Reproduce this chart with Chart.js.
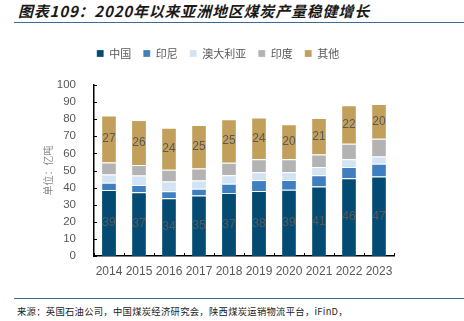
<!DOCTYPE html>
<html>
<head>
<meta charset="utf-8">
<script src="https://cdn.jsdelivr.net/npm/chart.js@4/dist/chart.umd.min.js"></script>
<style>
  html, body { margin: 0; padding: 0; background: #fff; }
  body { width: 464px; height: 321px; position: relative; overflow: hidden; font-family: "Noto Sans CJK SC", sans-serif; }
  #title { position: absolute; left: 18px; top: 0px; font-size: 15px; font-weight: bold; font-style: italic; color: #1a1a1a; white-space: nowrap; letter-spacing: 0.8px; }
  .rule { position: absolute; left: 14px; right: 0; height: 1.5px; background: #3b6a94; }
  #source { position: absolute; left: 17px; top: 304px; font-size: 9.3px; color: #222; white-space: nowrap; letter-spacing: 0.3px; }
  #wrap { position: absolute; left: 0; top: 36px; width: 440px; height: 250px; }
</style>
</head>
<body>
<div id="title">图表109：2020年以来亚洲地区煤炭产量稳健增长</div>
<div class="rule" style="top:21.5px"></div>
<div id="wrap"><canvas id="chart"></canvas></div>
<div class="rule" style="top:297.5px"></div>
<div id="source">来源：英国石油公司，中国煤炭经济研究会，陕西煤炭运销物流平台，iFinD，</div>
<script>
/* ---- Данные (亿吨), читаем с картинки ---- */
const YEARS = ["2014", "2015", "2016", "2017", "2018", "2019", "2020", "2021", "2022", "2023"];
const CHINA     = [38.6, 37.3, 33.8, 35.4, 36.9, 38.0, 38.8, 40.7, 45.5, 46.5];
const INDONESIA = [4.2, 4.2, 4.0, 3.9, 5.3, 6.4, 5.6, 6.5, 6.5, 7.5];
const AUSTRALIA = [4.8, 5.6, 5.8, 4.8, 5.0, 4.6, 4.6, 4.8, 4.6, 4.2];
const INDIA     = [7.1, 6.1, 6.9, 7.1, 7.3, 7.6, 7.6, 7.3, 9.1, 10.3];
const OTHER     = [27.45, 26.3, 24.45, 25.45, 25.45, 24.45, 20.45, 21.45, 22.45, 20.45];
const Y_TICKS   = [0, 10, 20, 30, 40, 50, 60, 70, 80, 90, 100];

const TXT = "#595959";
const NUM_FONT = "'Liberation Sans', Arial, sans-serif";

const SERIES = [
  { label: "中国",     data: CHINA,     color: "#034b72", showLabels: true },
  { label: "印尼",     data: INDONESIA, color: "#3f7fbf", showLabels: false },
  { label: "澳大利亚", data: AUSTRALIA, color: "#d2e3f3", showLabels: false },
  { label: "印度",     data: INDIA,     color: "#b3b3b3", showLabels: false },
  { label: "其他",     data: OTHER,     color: "#c29f5b", showLabels: true }
];

/* ---- Отступ под легендой ---- */
const legendGap = {
  id: "legendGap",
  beforeInit(chart) {
    const fit = chart.legend.fit;
    chart.legend.fit = function () { fit.call(this); this.height += 16; };
  }
};

/* ---- Подписи значений внутри сегментов ---- */
const segLabels = {
  id: "segLabels",
  afterDatasetsDraw(chart) {
    const ctx = chart.ctx;
    ctx.save();
    ctx.font = "12px " + NUM_FONT;
    ctx.fillStyle = TXT;
    ctx.textAlign = "center";
    ctx.textBaseline = "middle";
    chart.data.datasets.forEach((ds, i) => {
      if (!SERIES[i].showLabels) return;
      chart.getDatasetMeta(i).data.forEach((bar, j) => {
        ctx.fillText(String(Math.round(ds.data[j])), bar.x, (bar.y + bar.base) / 2);
      });
    });
    ctx.restore();
  }
};

/* ---- Короткие засечки внутрь области графика ---- */
const innerTicks = {
  id: "innerTicks",
  afterDraw(chart) {
    const ctx = chart.ctx, xs = chart.scales.x, ys = chart.scales.y;
    const left = chart.chartArea.left, bottom = chart.chartArea.bottom;
    ctx.save();
    ctx.strokeStyle = "#000";
    ctx.lineWidth = 1;
    ctx.beginPath();
    Y_TICKS.forEach(v => {
      const y = Math.round(ys.getPixelForValue(v)) + 0.5;
      ctx.moveTo(left, y); ctx.lineTo(left + 3, y);
    });
    const step = xs.getPixelForValue(1) - xs.getPixelForValue(0);
    for (let i = 0; i <= YEARS.length; i++) {
      const x = Math.round(xs.getPixelForValue(0) - step / 2 + i * step) + 0.5;
      ctx.moveTo(x, bottom); ctx.lineTo(x, bottom - 3);
    }
    ctx.stroke();
    ctx.restore();
  }
};

new Chart(document.getElementById("chart"), {
  type: "bar",
  data: {
    labels: YEARS,
    datasets: SERIES.map(s => ({
      label: s.label,
      data: s.data,
      backgroundColor: s.color,
      borderColor: "#ffffff",
      borderWidth: { top: 1 },
      borderSkipped: "start",
      barPercentage: 0.46,
      categoryPercentage: 1
    }))
  },
  options: {
    responsive: true, maintainAspectRatio: false, animation: false,
    layout: { padding: { top: 0, right: 46, left: 42, bottom: 0 } },
    plugins: {
      tooltip: { enabled: false },
      legend: {
        position: "top",
        labels: {
          color: TXT, boxWidth: 7, boxHeight: 7, padding: 12,
          font: { size: 11, family: "'Noto Sans CJK SC', sans-serif" }
        }
      }
    },
    scales: {
      x: {
        stacked: true,
        grid: { display: false },
        border: { display: true, color: "#000", width: 1.5 },
        ticks: { color: TXT, font: { size: 12, family: NUM_FONT }, padding: 0, maxRotation: 0 },
        afterFit: s => { s.height = 30; }
      },
      y: {
        stacked: true, min: 0, max: 100,
        grid: { display: false },
        border: { display: true, color: "#000", width: 1.5 },
        ticks: { stepSize: 10, color: TXT, font: { size: 11.5, family: NUM_FONT }, padding: 10 },
        title: { display: true, text: "单位：亿吨", color: "#8c8c8c", font: { size: 10, family: "'Noto Sans CJK SC', sans-serif" }, padding: 0 },
        afterFit: s => { s.width = 52; }
      }
    }
  },
  plugins: [legendGap, segLabels, innerTicks]
});
</script>
</body>
</html>
